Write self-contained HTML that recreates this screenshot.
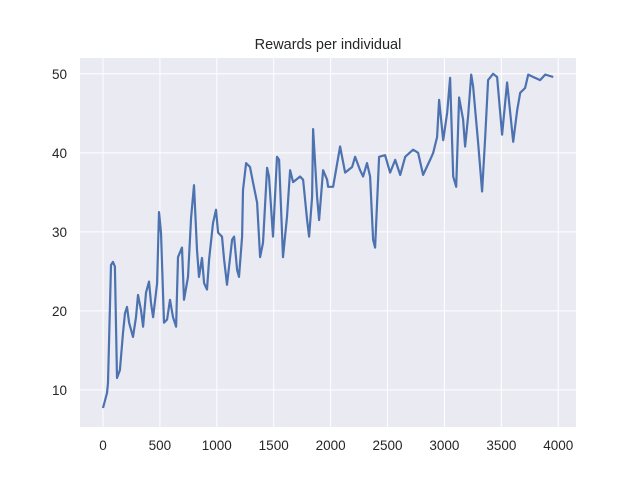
<!DOCTYPE html>
<html><head><meta charset="utf-8"><style>
body{margin:0;background:#fff;}
svg{display:block;font-family:"Liberation Sans","DejaVu Sans",sans-serif;}
</style></head><body>
<svg id="chart" width="640" height="480">
<rect x="0" y="0" width="640" height="480" fill="#fff"/>
<rect x="80" y="58" width="496" height="369" fill="#eaeaf2"/>
<g id="grid"></g>
<g id="ticks"></g>
<path id="line" fill="none" stroke="#4c72b0" stroke-width="2.2" stroke-linejoin="round"/>
<text x="328" y="49" text-anchor="middle" font-size="14.5" fill="#262626">Rewards per individual</text>
</svg>
<script>
const xTicks=[0,500,1000,1500,2000,2500,3000,3500,4000];
const yTicks=[10,20,30,40,50];
const steps=[0,35,44,70,88,105,123,149,176,193,211,229,264,290,308,334,352,378,404,422,440,475,492,510,536,563,589,615,642,659,694,712,747,774,800,826,844,870,888,914,932,967,993,1011,1046,1064,1090,1134,1152,1178,1195,1222,1230,1257,1292,1319,1354,1380,1406,1442,1459,1494,1529,1547,1582,1617,1644,1670,1732,1758,1793,1811,1837,1846,1881,1899,1934,1969,1978,2022,2083,2127,2189,2215,2259,2285,2320,2347,2373,2391,2426,2479,2523,2567,2611,2655,2725,2769,2813,2874,2901,2936,2953,2989,3024,3050,3077,3103,3129,3164,3182,3208,3235,3252,3296,3331,3358,3384,3428,3463,3507,3551,3604,3639,3666,3709,3736,3780,3841,3885,3956];
const rewards=[7.7,9.6,10.9,25.8,26.2,25.6,11.5,12.5,17.2,19.7,20.5,18.5,16.7,19.2,22.0,20.1,18.0,22.3,23.7,21.0,19.2,23.5,32.5,29.9,18.5,18.9,21.4,19.2,18.0,26.8,28.0,21.4,24.3,31.8,35.9,27.7,24.3,26.7,23.5,22.7,26.5,31.1,32.8,29.9,29.4,26.5,23.3,29.0,29.4,25.2,24.3,29.4,35.3,38.7,38.2,36.2,33.7,26.8,28.6,38.1,37.0,29.4,39.5,39.1,26.8,31.9,37.8,36.3,37.0,36.6,31.5,29.4,34.4,43.0,34.4,31.5,37.8,36.6,35.7,35.7,40.8,37.5,38.2,39.5,37.8,37.0,38.7,37.0,29.0,28.0,39.5,39.7,37.5,39.1,37.2,39.5,40.4,40.0,37.2,39.1,40.0,42.0,46.7,41.6,45.1,49.5,37.0,35.7,47.0,44.2,40.8,44.6,49.9,48.4,41.3,35.1,42.0,49.2,50.0,49.6,42.3,48.9,41.4,45.4,47.6,48.2,49.9,49.6,49.2,49.9,49.6];
const X0=80,X1=576,Y0=58,Y1=427;
const xMin=-202,xMax=4156,yMin=5.3,yMax=52.0;
function sx(v){return X0+(v-xMin)/(xMax-xMin)*(X1-X0);}
function sy(v){return Y1-(v-yMin)/(yMax-yMin)*(Y1-Y0);}
const NS="http://www.w3.org/2000/svg";
const grid=document.getElementById('grid'),ticks=document.getElementById('ticks');
xTicks.forEach(t=>{
  const l=document.createElementNS(NS,'line');
  
  
  l.setAttribute('x1',sx(t));l.setAttribute('x2',sx(t));l.setAttribute('y1',Y0);l.setAttribute('y2',Y1);
  l.setAttribute('stroke','#fff');l.setAttribute('stroke-width','1');
  grid.appendChild(l);
  const tx=document.createElementNS(NS,'text');
  
  
  tx.setAttribute('x',sx(t));tx.setAttribute('y',450);tx.setAttribute('text-anchor','middle');
  tx.setAttribute('font-size','13.5');tx.setAttribute('fill','#262626');tx.textContent=t;
  ticks.appendChild(tx);
});
yTicks.forEach(t=>{
  const l=document.createElementNS(NS,'line');
  
  
  l.setAttribute('x1',X0);l.setAttribute('x2',X1);l.setAttribute('y1',sy(t));l.setAttribute('y2',sy(t));
  l.setAttribute('stroke','#fff');l.setAttribute('stroke-width','1');
  grid.appendChild(l);
  const tx=document.createElementNS(NS,'text');
  
  
  tx.setAttribute('x',67);tx.setAttribute('y',sy(t)+5);tx.setAttribute('text-anchor','end');
  tx.setAttribute('font-size','13.5');tx.setAttribute('fill','#262626');tx.textContent=t;
  ticks.appendChild(tx);
});
let d='';
steps.forEach((s,i)=>{d+=(i?'L':'M')+sx(s).toFixed(1)+','+sy(rewards[i]).toFixed(1);});
document.getElementById('line').setAttribute('d',d);
</script>
</body></html>
